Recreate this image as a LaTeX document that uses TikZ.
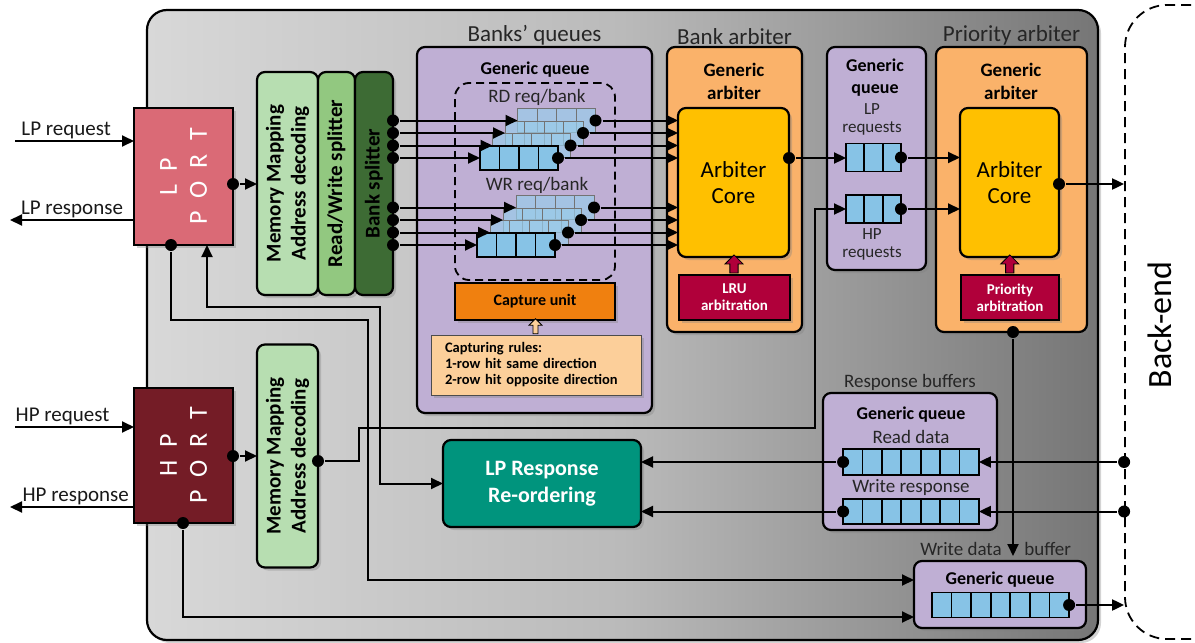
\documentclass[tikz,border=0pt]{standalone}
\usepackage{fontspec}
\setmainfont{Carlito}
\usetikzlibrary{arrows.meta,shapes.arrows,shadows,calc,positioning}

\definecolor{lpred}{RGB}{218,106,118}
\definecolor{hpred}{RGB}{116,28,38}
\definecolor{mmgreen}{RGB}{183,222,177}
\definecolor{rwgreen}{RGB}{146,200,128}
\definecolor{bkgreen}{RGB}{61,107,52}
\definecolor{qpurple}{RGB}{191,175,212}
\definecolor{qblue}{RGB}{135,195,230}
\definecolor{capor}{RGB}{240,128,15}
\definecolor{rulesor}{RGB}{252,207,154}
\definecolor{arbor}{RGB}{250,178,106}
\definecolor{coreyel}{RGB}{255,192,0}
\definecolor{crim}{RGB}{176,0,58}
\definecolor{respteal}{RGB}{0,148,125}
\definecolor{bgl}{RGB}{216,216,216}
\definecolor{bgm}{RGB}{186,186,186}
\definecolor{bgr}{RGB}{118,118,118}

\tikzset{
  dshadow/.style={drop shadow={shadow xshift=3pt,shadow yshift=-3pt,opacity=.35}},
  blk/.style={draw,line width=2.2pt,rounded corners=8pt,inner sep=0pt,outer sep=0pt,dshadow},
  port/.style={draw,line width=2.2pt,inner sep=0pt,outer sep=0pt,minimum width=99,dshadow},
  flat/.style={draw,line width=2pt,inner sep=0pt,outer sep=0pt,align=center,dshadow},
  porttxt/.style={rotate=90,text=white,align=center,font=\fontsize{26}{30}\selectfont},
  vtxt/.style={rotate=90,align=center,font=\bfseries\fontsize{21}{25}\selectfont},
  hdr/.style={align=center,font=\bfseries\fontsize{18}{22}\selectfont},
  arbhdr/.style={align=center,font=\bfseries\fontsize{19}{23}\selectfont},
  lbl/.style={align=center,text=black!85,font=\fontsize{19}{21}\selectfont},
  reqlbl/.style={align=center,text=black!85,font=\fontsize{17}{18}\selectfont},
  iolbl/.style={inner sep=1pt,text=black!90,font=\fontsize{21}{24}\selectfont},
  grptitle/.style={text=black!85,inner sep=1pt,font=\fontsize{23}{26}\selectfont},
  corelbl/.style={align=center,font=\fontsize{23}{26}\selectfont},
  arblbl/.style={text=white,font=\bfseries\fontsize{15}{17}\selectfont},
  fifo/.style={draw,fill=qblue,line width=1.8pt,inner sep=0pt,outer sep=0pt},
  ghost/.style={draw=black!55,fill=qblue!85,fill opacity=.7,line width=1pt},
  jdot/.style={circle,fill=black,inner sep=0pt,minimum size=12pt},
  fatup/.style={single arrow,draw=black,line width=.8pt,rotate=90,inner sep=3pt,
    single arrow head extend=4pt,minimum width=18pt},
}

\newcommand{\fifo}[6][]{%
  \node[fifo,#1,minimum width=#4*#5,minimum height=#6] (#2) at (#3) {};
  \pgfmathtruncatemacro\fifolast{#4-1}
  \foreach \c in {1,...,\fifolast}
    \draw[fifo,#1] ($(#2.south west)+(\c*#5,0)$) -- ($(#2.north west)+(\c*#5,0)$);
}

\begin{document}
\begin{tikzpicture}[x=1pt,y=-1pt,>={Triangle[length=12pt,width=11pt]},line width=2pt]
\useasboundingbox (0,0) rectangle (1195,643);

\node[blk,rounded corners=20pt,left color=bgl,right color=bgr,middle color=bgm,
  minimum width=951,minimum height=630] (ctrl) at (622.5,325) {};
\node[draw,dashed,line width=1.8pt,dash pattern=on 10pt off 6pt,rounded corners=42pt,
  minimum width=220,minimum height=634] (backend) at (1235,322) {};
\node[rotate=90,font=\fontsize{34}{40}\selectfont] at (1160,325) {Back-end};

\node[port,fill=lpred,minimum height=137] (lpport) at (183.5,176.5) {};
\node[porttxt] at (lpport) {L\hspace{.5em}P\\P\hspace{.5em}O\hspace{.5em}R\hspace{.5em}T};
\node[port,fill=hpred,minimum height=135] (hpport) at (183.5,455.5) {};
\node[porttxt] at (hpport) {H\hspace{.5em}P\\P\hspace{.5em}O\hspace{.5em}R\hspace{.5em}T};

\node[blk,fill=mmgreen,minimum width=61,minimum height=223] (mm1) at (287.5,183.5) {};
\node[vtxt] at (mm1) {Memory Mapping\\Address decoding};
\node[blk,fill=rwgreen,minimum width=37,minimum height=223] (rws) at (336.5,183.5) {};
\node[vtxt] at (rws) {Read/Write splitter};
\node[blk,fill=bkgreen,minimum width=38,minimum height=223] (bks) at (374,183.5) {};
\node[vtxt] at (bks) {Bank splitter};
\node[blk,fill=mmgreen,minimum width=61,minimum height=223] (mm2) at (287.5,456) {};
\node[vtxt] at (mm2) {Memory Mapping\\Address decoding};

\node[blk,fill=qpurple,minimum width=235,minimum height=366] (banks) at (534.5,230) {};
\node[grptitle,above=0pt of banks] {Banks' queues};
\node[hdr] at (535,70) {Generic queue};
\node[draw,dashed,line width=1.8pt,dash pattern=on 8pt off 5pt,rounded corners=14pt,
  minimum width=160,minimum height=197] (reqs) at (535,181.5) {};
\node[lbl] at (537,97) {RD req/bank};
\node[lbl] at (537,185) {WR req/bank};
\foreach \k in {3,2,1} {
  \fifo[ghost]{rd\k}{519+12.5*\k,158-12.5*\k}{4}{19.5}{24}
  \fifo[ghost]{wr\k}{516+13*\k,245-12.5*\k}{4}{19.5}{24}
}
\fifo{rd0}{519,158}{4}{19.5}{24}
\fifo{wr0}{516,245}{4}{19.5}{24}
\node[flat,fill=capor,minimum width=160,minimum height=37,
  font=\bfseries\fontsize{16}{18}\selectfont] (capt) at (535,301.5) {Capture unit};
\node[flat,fill=rulesor,line width=1pt,draw=black!70,minimum width=210,minimum height=60,
  align=left,text width=182,font=\bfseries\fontsize{14.5}{16}\selectfont] (rules) at (536,365)
  {Capturing rules:\\1-row hit same direction\\2-row hit opposite direction};
\node[fatup,fill=rulesor,inner sep=2pt,minimum width=13pt,minimum height=15]
  at ($(rules.north)!.5!(capt.south)$) {};

\node[blk,fill=arbor,minimum width=135,minimum height=285] (barb) at (734.5,189.5) {};
\node[grptitle,above=0pt of barb] {Bank arbiter};
\node[arbhdr] at (734,81.5) {Generic\\arbiter};
\node[blk,fill=coreyel,minimum width=111,minimum height=149,corelbl] (bcore) at (733.5,182.5) {Arbiter\\Core};
\node[flat,fill=crim,arblbl,minimum width=111,minimum height=45] (lru) at (734.5,297.5) {LRU\\arbitration};
\node[fatup,fill=crim,minimum height=18] at ($(lru.north)!.5!(bcore.south)$) {};

\node[blk,fill=qpurple,minimum width=99,minimum height=223] (pq) at (876.5,158.5) {};
\node[hdr] at (875,78) {Generic\\queue};
\node[reqlbl] at (872,119) {LP\\requests};
\fifo{lpq}{873.5,157.5}{3}{18.3}{28}
\fifo{hpq}{873.5,209}{3}{18.3}{28}
\node[reqlbl] at (872,244) {HP\\requests};

\node[blk,fill=arbor,minimum width=151,minimum height=285] (parb) at (1011.5,189.5) {};
\node[grptitle,above=0pt of parb] {Priority arbiter};
\node[arbhdr] at (1011,81.5) {Generic\\arbiter};
\node[blk,fill=coreyel,minimum width=99,minimum height=149,corelbl] (pcore) at (1009.5,182.5) {Arbiter\\Core};
\node[flat,fill=crim,arblbl,minimum width=98,minimum height=45] (prio) at (1010,297.5) {Priority\\arbitration};
\node[fatup,fill=crim,minimum height=18] at ($(prio.north)!.5!(pcore.south)$) {};

\node[blk,fill=qpurple,minimum width=174,minimum height=137] (rbuf) at (910,461.5) {};
\node[grptitle,above=0pt of rbuf,font=\fontsize{19}{22}\selectfont] {Response buffers};
\node[hdr] at (911,415) {Generic queue};
\node[lbl] at (911,437) {Read data};
\fifo{rdq}{911,462}{7}{19.4}{26}
\node[lbl] at (911,487) {Write response};
\fifo{wrq}{911,511.5}{7}{19.4}{25}

\node[blk,fill=qpurple,minimum width=172,minimum height=67] (wdbuf) at (1000,594.5) {};
\node[hdr] at (1000,580) {Generic queue};
\fifo{wdq}{1000.5,605}{7}{19.6}{25}
\node[lbl,anchor=east] at (1006,549) {Write data};
\node[lbl,anchor=west] at (1020,549) {buffer};

\node[blk,fill=respteal,minimum width=198,minimum height=87,text=white,align=center,
  font=\bfseries\fontsize{22}{27}\selectfont] (lpresp) at (542,483.5) {LP Response\\Re-ordering};

\coordinate (lpin) at (15,141);
\coordinate (lpout) at (10,220);
\coordinate (hpin) at (15,427);
\coordinate (hpout) at (10,507);
\draw[->] (lpin) -- node[pos=.43,above,iolbl] {LP request} (lpin -| lpport.west);
\draw[->] (lpout -| lpport.west) -- node[pos=.5,above,iolbl] {LP response} (lpout);
\draw[->] (hpin) -- node[pos=.4,above,iolbl] {HP request} (hpin -| hpport.west);
\draw[->] (hpout -| hpport.west) -- node[pos=.47,above,iolbl] {HP response} (hpout);

\node[jdot] (lpo) at (233,184) {};
\node[jdot] (lpb) at (171,245) {};
\node[jdot] (hpo) at (233,456) {};
\node[jdot] (hpb) at (183,523) {};
\node[jdot] (mmo) at (318,461) {};
\node[jdot] (bco) at (789,158) {};
\node[jdot] (pco) at (1059,184) {};
\node[jdot] (pbo) at (1013,332) {};
\node[jdot] (lqo) at (lpq.east) {};
\node[jdot] (hqo) at (hpq.east) {};
\node[jdot] (rdo) at (rdq.west) {};
\node[jdot] (wro) at (wrq.west) {};
\node[jdot] (wdo) at (wdq.east) {};
\node[jdot] (be1) at (backend.west |- rdq) {};
\node[jdot] (be2) at (backend.west |- wrq) {};

\foreach \k in {0,...,3} {
  \node[jdot] (rdin\k) at (bks.east |- rd\k) {};
  \node[jdot] (rdout\k) at (rd\k.east) {};
  \draw[->] (rdin\k) -- (rd\k.west);
  \draw[->] (rdout\k) -- (rdout\k -| bcore.west);
  \node[jdot] (wrin\k) at (bks.east |- wr\k) {};
  \node[jdot] (wrout\k) at (wr\k.east) {};
  \draw[->] (wrin\k) -- (wr\k.west);
  \draw[->] (wrout\k) -- (wrout\k -| bcore.west);
}

\coordinate (wdA) at (368,580);
\coordinate (wdB) at (183,617);
\draw[->] (lpo) -- (lpo -| mm1.west);
\draw[->] (hpo) -- (hpo -| mm2.west);
\draw[->] (mmo) -- (359,461) -- (359,428) -- (815,428) |- (hpq.west);
\draw[->] (lpb) -- (171,320) -- (368,320) -- (wdA) -- (wdA -| wdbuf.west);
\draw[->] (hpb) -- (wdB) -- (wdB -| wdbuf.west);
\draw[<->] ($(lpport.south)+(23.5,0)$) -- (207,307) -- (380,307) |- (lpresp.west);
\draw[->] (bco) -- (bco -| lpq.west);
\draw[->] (lqo) -- (lqo -| pcore.west);
\draw[->] (hqo) -- (hqo -| pcore.west);
\draw[->] (pco) -- (pco -| backend.west);
\draw[->,shorten >=5pt] (pbo) -- (pbo |- wdbuf.north);
\draw[->] (be1) -- (rdq.east);
\draw[->] (be2) -- (wrq.east);
\draw[->] (rdo) -- (rdo -| lpresp.east);
\draw[->] (wro) -- (wro -| lpresp.east);
\draw[->] (wdo) -- (wdo -| backend.west);
\end{tikzpicture}
\end{document}
